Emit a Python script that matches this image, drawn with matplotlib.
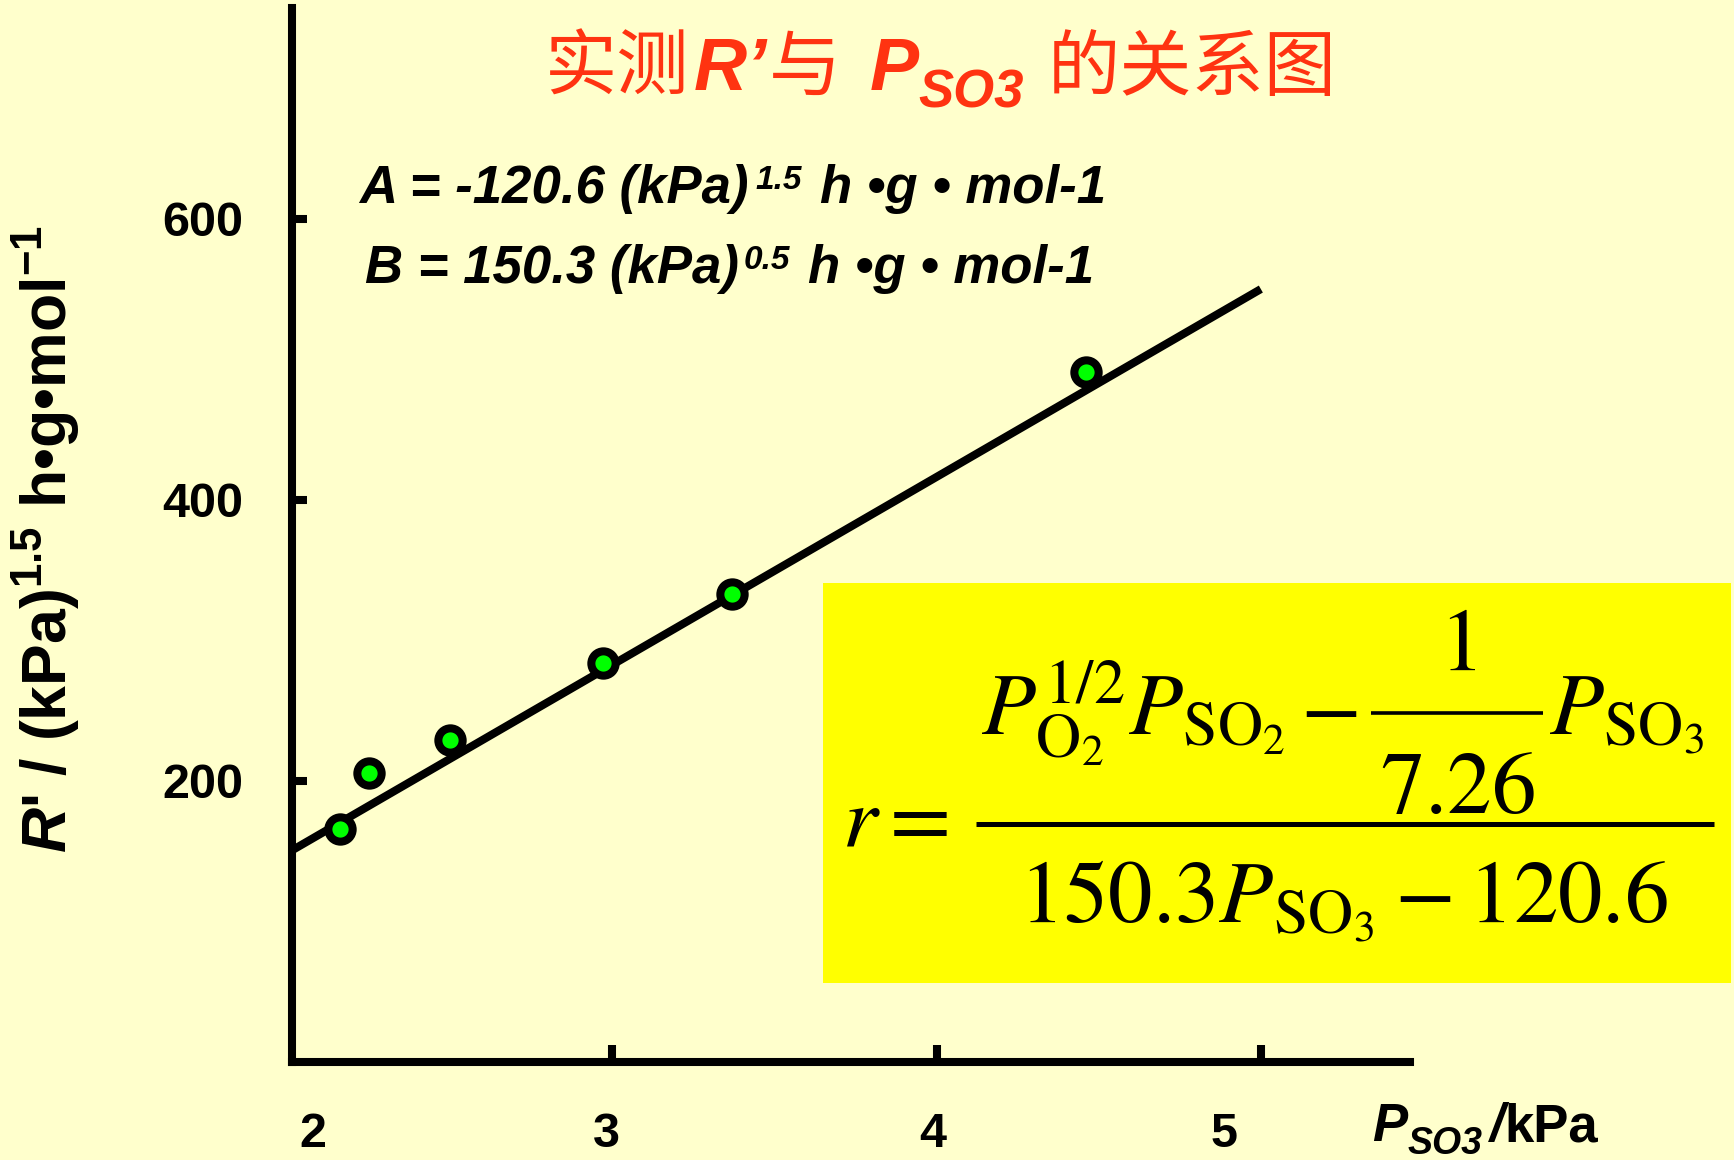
import matplotlib
matplotlib.use('Agg')
import matplotlib.pyplot as plt
from matplotlib.transforms import IdentityTransform
from matplotlib.patches import Rectangle
from matplotlib.lines import Line2D

# ---------------- data ----------------
p_so3 = [2.16, 2.25, 2.50, 2.97, 3.37, 4.46]        # kPa
r_prime = [166, 206, 229, 284, 333, 491]            # (kPa)^1.5 h g mol^-1
fit_p = [2.0, 5.0]
fit_r = [149, 550]
x_ticks = [3, 4, 5]
x_tick_label_pos = [2.076, 2.983, 3.987, 4.888]
x_tick_labels = ['2', '3', '4', '5']
y_ticks = [200, 400, 600]
y_tick_labels = ['200', '400', '600']

W, H, DPI = 1734, 1160, 100
BG = '#FFFFCC'
BOX = '#FFFF00'
RED = '#FF3311'

plt.rcParams['mathtext.fontset'] = 'custom'
plt.rcParams['mathtext.it'] = 'Liberation Sans:bold:italic'
plt.rcParams['mathtext.bf'] = 'Liberation Sans:bold'
plt.rcParams['mathtext.rm'] = 'Liberation Sans:bold'
plt.rcParams['mathtext.sf'] = 'Liberation Sans:bold:italic'

fig = plt.figure(figsize=(W / DPI, H / DPI), dpi=DPI, facecolor=BG)
ax = fig.add_axes([292 / W, 98 / H, (1410 - 292) / W, (1062 - 8) / H])
ax.set_facecolor('none')
ax.set_xlim(2.012, 5.46)
ax.set_ylim(0, 750)

for s in ['top', 'right']:
    ax.spines[s].set_visible(False)
for s in ['left', 'bottom']:
    ax.spines[s].set_linewidth(5.8)
    ax.spines[s].set_color('black')

ax.plot(fit_p, fit_r, color='black', lw=5.8, solid_capstyle='butt', zorder=3)
ax.plot(p_so3, r_prime, 'o', ms=17.5, mfc='#00FF00', mec='black', mew=5.8, zorder=4)

tick_font = dict(family='Liberation Sans', fontweight='bold', fontsize=35)
ax.set_xticks(x_ticks)
ax.set_xticklabels([])
ax.set_xticks(x_tick_label_pos, minor=True)
ax.set_xticklabels(x_tick_labels, minor=True, **tick_font)
ax.tick_params(axis='x', which='major', direction='in', length=12, width=5.8,
               labelbottom=False, color='black')
ax.tick_params(axis='x', which='minor', length=0, pad=36)
ax.set_yticks(y_ticks)
ax.set_yticklabels(y_tick_labels, **tick_font)
ax.tick_params(axis='y', direction='in', length=11, width=5.8, pad=35, color='black')

# yellow formula box
fig.add_artist(Rectangle((823 / W, (H - 983) / H), 908 / W, 400 / H,
                         transform=fig.transFigure, facecolor=BOX,
                         edgecolor='none', zorder=2))

# y label
fig.text(46 / W, (H - 539) / H,
         r"$\mathit{R}$' / (kPa)$^{\mathbf{1.5}}$ h•g•mol$^{\mathbf{-1}}$",
         rotation=90, ha='center', va='center', family='Liberation Sans',
         fontweight='bold', fontsize=45, color='black')

renderer = fig.canvas.get_renderer()


def make_text(s, kw):
    t = fig.text(0, 0, s, transform=IdentityTransform(), ha='left',
                 va='baseline', zorder=6, **kw)
    return t, t.get_window_extent(renderer).width


def draw_runs(x0, base, runs, ha='left'):
    """runs: (text, props, dy) tuples, numbers = gaps in px.  y from top."""
    items, total = [], 0.0
    for run in runs:
        if isinstance(run, (int, float)):
            items.append((None, run, 0))
            total += run
            continue
        s, kw, dy = run
        t, w = make_text(s, kw)
        items.append((t, w, dy))
        total += w
    x = x0 - total / 2 if ha == 'center' else x0
    for t, w, dy in items:
        if t is not None:
            t.set_position((x, H - base + dy))
        x += w


def hbar(x0, x1, y, lw):
    fig.add_artist(Line2D([x0, x1], [H - y, H - y], transform=IdentityTransform(),
                          color='black', lw=lw, solid_capstyle='butt', zorder=6))


# ---- formula (Times-like math) ----
FS = 64
fm_kw = dict(math_fontfamily='stix', fontsize=FS, color='black')
t_r, w_r = make_text(r'$r=$', fm_kw)
t_r.set_position((842, H - 846))
hbar(976, 1714, 824, 3.6)

# numerator pieces
t_a, w_a = make_text(r'$P_{\mathrm{O}_2}^{1/2}P_{\mathrm{SO}_2}$', fm_kw)
t_m, w_m = make_text(r'$-$', fm_kw)
t_one, w_one = make_text(r'$1$', fm_kw)
t_726, w_726 = make_text(r'$7.26$', fm_kw)
t_p3, w_p3 = make_text(r'$P_{\mathrm{SO}_3}$', fm_kw)
w_inner = w_726 + 18
g = 14
total = w_a + g + w_m + g + w_inner + 6 + w_p3
x = 1343 - total / 2
t_a.set_position((x, H - 735)); x += w_a + g
t_m.set_position((x, H - 735)); x += w_m + g
cx = x + w_inner / 2
hbar(x, x + w_inner, 713, 2.6)
t_one.set_position((cx - w_one / 2, H - 670))
t_726.set_position((cx - w_726 / 2, H - 813))
x += w_inner + 6
t_p3.set_position((x, H - 735))

# denominator
draw_runs(1343, 923, [(r'$150.3P_{\mathrm{SO}_3}-120.6$', fm_kw, 0)], ha='center')

cjk = dict(family='Noto Sans CJK SC', fontsize=52, color=RED)
lbi = lambda sz, c='black': dict(family='Liberation Sans', fontweight='bold',
                                  fontstyle='italic', fontsize=sz, color=c)
lb = lambda sz, c='black': dict(family='Liberation Sans', fontweight='bold',
                                 fontsize=sz, color=c)

# title
draw_runs(941, 90, [
    ('实测', cjk, 0), 4,
    ('R’', lbi(53, RED), 0), 2,
    ('与', cjk, 0), 28,
    ('P', lbi(53, RED), 0), 0,
    ('SO3', lbi(38, RED), -18), 24,
    ('的关系图', cjk, 0),
], ha='center')

# parameter lines
draw_runs(359, 203, [
    ('A = -120.6 (kPa)', lbi(38), 0), 7,
    ('1.5', lbi(24), 14), 18,
    ('h •g • mol-1', lbi(38), 0),
])
draw_runs(365, 283, [
    ('B = 150.3 (kPa)', lbi(38), 0), 5,
    ('0.5', lbi(24), 14), 18,
    ('h •g • mol-1', lbi(38), 0),
])

# x label
draw_runs(1372, 1141, [
    ('P', lbi(38), 0), 0,
    ('SO3', lbi(27), -13), 8,
    ('/', lbi(38), 0), 0,
    ('kPa', lb(38), 0),
])

fig.savefig('out.png', dpi=DPI, facecolor=BG)
